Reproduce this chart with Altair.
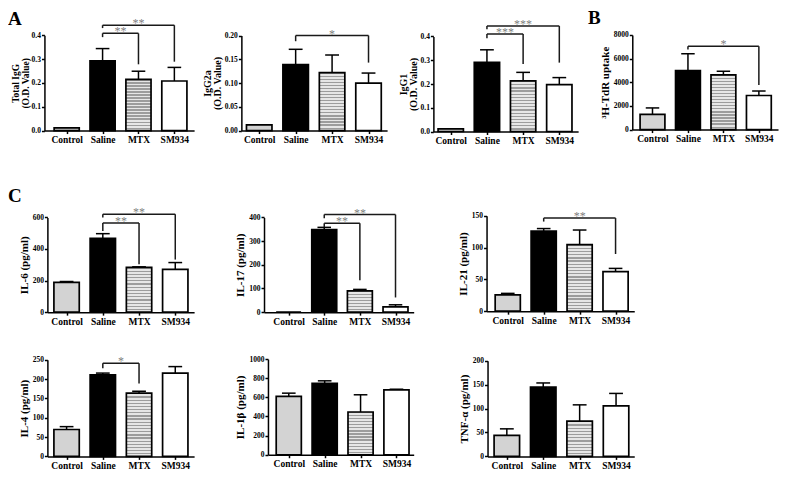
import json
import altair as alt
import pandas as pd

# ---------------- data ----------------
GROUPS = ["Control", "Saline", "MTX", "SM934"]

TOTAL_IGG = [0.011, 0.293, 0.215, 0.208]
TOTAL_IGG_SEM = [0.0, 0.051, 0.034, 0.057]
IGG2A = [0.012, 0.139, 0.122, 0.100]
IGG2A_SEM = [0.0, 0.032, 0.037, 0.021]
IGG1 = [0.011, 0.291, 0.213, 0.197]
IGG1_SEM = [0.0, 0.053, 0.036, 0.030]
TDR = [1290, 4990, 4630, 2880]
TDR_SEM = [540, 1420, 300, 380]
IL6 = [188, 468, 284, 271]
IL6_SEM = [6, 29, 3, 43]
IL17 = [0, 348, 90, 22]
IL17_SEM = [0, 10, 6, 9]
IL21 = [25.6, 126, 104.7, 62.3]
IL21_SEM = [2.4, 4, 23, 5]
IL4 = [69.6, 211, 163.6, 215.6]
IL4_SEM = [7.4, 4.6, 5, 16.8]
IL1B = [610, 746, 447, 678]
IL1B_SEM = [34, 27, 180, 7]
TNF = [44, 145, 73.7, 105.8]
TNF_SEM = [13.6, 8.6, 34.1, 25.9]

# significance brackets: (from, to, bracket level, left end, right end, label)
TOTAL_IGG_SIG = [("Saline", "MTX", 0.408, 0.392, 0.278, "**"),
                 ("Saline", "SM934", 0.442, 0.430, 0.289, "**")]
IGG2A_SIG = [("Saline", "SM934", 0.200, 0.188, 0.143, "*")]
IGG1_SIG = [("Saline", "MTX", 0.410, 0.393, 0.284, "***"),
            ("Saline", "SM934", 0.444, 0.430, 0.290, "***")]
TDR_SIG = [("Saline", "SM934", 7050, 6770, 3760, "*")]
IL6_SIG = [("Saline", "MTX", 565, 514, 304, "**"),
           ("Saline", "SM934", 620, 600, 333, "**")]
IL17_SIG = [("Saline", "MTX", 375, 358, 135, "**"),
            ("Saline", "SM934", 412, 396, 62, "**")]
IL21_SIG = [("Saline", "SM934", 146.5, 141, 90, "**")]
IL4_SIG = [("Saline", "MTX", 240.8, 228, 188.8, "*")]

# ---------------- layout / style ----------------
W, H = 771, 462
SERIF = "Liberation Serif"


def px(x):
    return (x - 3.0) * W / 783.0


def py(y):
    return (y - 4.0) * H / 475.0


BAR_HALF = 0.35
CAP_HALF = 0.19
FILLS = {"Control": "#d3d3d3", "Saline": "#000000", "SM934": "#ffffff"}
STRIPE_LINE = "#9c9c9c"
STRIPE_BG = "#e6e6e6"
LABEL_EXPR = json.dumps(GROUPS) + "[datum.value]"

PANELS = [
    dict(mean=TOTAL_IGG, sem=TOTAL_IGG_SEM, sig=TOTAL_IGG_SIG, title=["Total IgG", "(O.D. Value)"],
         ax=(40, 192), xdom=(-0.62, 3.55), yr=(32, 130), ymax=0.4,
         ticks=[0, 0.1, 0.2, 0.3, 0.4], fmt=".1f", tfs=9.5, tpad=1),
    dict(mean=IGG2A, sem=IGG2A_SEM, sig=IGG2A_SIG, title=["IgG2a", "(O.D. Value)"],
         ax=(240, 388), xdom=(-0.49, 3.51), yr=(32.3, 130), ymax=0.2,
         ticks=[0, 0.05, 0.1, 0.15, 0.2], fmt=".2f", tfs=10, tpad=2),
    dict(mean=IGG1, sem=IGG1_SEM, sig=IGG1_SIG, title=["IgG1", "(O.D. Value)"],
         ax=(435, 582), xdom=(-0.48, 3.52), yr=(33.3, 131), ymax=0.4,
         ticks=[0, 0.1, 0.2, 0.3, 0.4], fmt=".1f", tfs=10, tpad=2),
    dict(mean=TDR, sem=TDR_SEM, sig=TDR_SIG, title="³H-TdR uptake",
         ax=(637, 785), xdom=(-0.57, 3.54), yr=(31.7, 129), ymax=8000,
         ticks=[0, 2000, 4000, 6000, 8000], fmt="d", tfs=11, tpad=3),
    dict(mean=IL6, sem=IL6_SEM, sig=IL6_SIG, title="IL-6 (pg/ml)",
         ax=(43, 192), xdom=(-0.53, 3.52), yr=(219.3, 316.7), ymax=600,
         ticks=[0, 200, 400, 600], fmt="d", tfs=11, tpad=3),
    dict(mean=IL17, sem=IL17_SEM, sig=IL17_SIG, title="IL-17 (pg/ml)",
         ax=(263, 415), xdom=(-0.69, 3.51), yr=(219.3, 316.7), ymax=400,
         ticks=[0, 100, 200, 300, 400], fmt="d", tfs=11, tpad=3),
    dict(mean=IL21, sem=IL21_SEM, sig=IL21_SIG, title="IL-21 (pg/ml)",
         ax=(489, 639), xdom=(-0.59, 3.52), yr=(217.7, 315.7), ymax=150,
         ticks=[0, 50, 100, 150], fmt="d", tfs=11, tpad=3),
    dict(mean=IL4, sem=IL4_SEM, sig=IL4_SIG, title="IL-4 (pg/ml)",
         ax=(43, 192), xdom=(-0.53, 3.52), yr=(365.7, 465), ymax=250,
         ticks=[0, 50, 100, 150, 200, 250], fmt="d", tfs=11, tpad=3),
    dict(mean=IL1B, sem=IL1B_SEM, sig=[], title="IL-1β (pg/ml)",
         ax=(267, 415), xdom=(-0.58, 3.48), yr=(365, 463.3), ymax=1000,
         ticks=[0, 200, 400, 600, 800, 1000], fmt="d", tfs=11, tpad=3),
    dict(mean=TNF, sem=TNF_SEM, sig=[], title="TNF-α (pg/ml)",
         ax=(490, 639), xdom=(-0.53, 3.5), yr=(366.7, 465), ymax=200,
         ticks=[0, 50, 100, 150, 200], fmt="d", tfs=11, tpad=3),
]


def stripes(height_px, period=3.1):
    n = max(1, int(round(height_px / period)))
    stops = []
    for k in range(n):
        a, m, b = k / n, (k + 0.4) / n, (k + 1) / n
        stops += [alt.GradientStop(color=STRIPE_LINE, offset=a),
                  alt.GradientStop(color=STRIPE_LINE, offset=m),
                  alt.GradientStop(color=STRIPE_BG, offset=m),
                  alt.GradientStop(color=STRIPE_BG, offset=min(b, 1.0))]
    return alt.LinearGradient(gradient="linear", stops=stops, x1=0, x2=0, y1=0, y2=1)


def build_panel(p):
    """Returns a flat list of layers for one panel (explicit, identical scales)."""
    df = pd.DataFrame({"g": GROUPS, "i": list(range(len(GROUPS))),
                       "mean": p["mean"], "sem": p["sem"]})
    df["top"] = df["mean"] + df["sem"]
    x0, x1 = p["ax"]
    ytop, ybot = p["yr"]

    def xs():
        return alt.Scale(domain=list(p["xdom"]), range=[px(x0), px(x1)], nice=False, zero=False)

    def ys():
        return alt.Scale(domain=[0, p["ymax"]], range=[py(ybot), py(ytop)], nice=False, zero=False)

    xaxis = alt.Axis(orient="bottom", offset=py(ybot) - H, values=list(range(len(GROUPS))),
                     labelExpr=LABEL_EXPR, title=None, labelFontSize=9.5, labelOverlap=False,
                     labelFlush=False, labelPadding=1, grid=False)
    yaxis = alt.Axis(orient="left", offset=-px(x0), values=p["ticks"], format=p["fmt"],
                     title=p["title"], labelFontSize=7.5, titleFontSize=p["tfs"],
                     titlePadding=p["tpad"], labelPadding=1, titleLineHeight=10, grid=False)

    base = alt.Chart(df).transform_calculate(
        lo=f"datum.i - {BAR_HALF}", hi=f"datum.i + {BAR_HALF}",
        clo=f"datum.i - {CAP_HALF}", chi=f"datum.i + {CAP_HALF}")

    solid = base.transform_filter("datum.g != 'MTX'").mark_bar(
        stroke="black", strokeWidth=1.7).encode(
        x=alt.X("lo:Q", scale=xs(), axis=xaxis), x2="hi:Q",
        y=alt.Y("mean:Q", scale=ys(), axis=yaxis), y2=alt.datum(0),
        fill=alt.Fill("g:N", scale=alt.Scale(domain=list(FILLS.keys()), range=list(FILLS.values())),
                      legend=None))

    mtx_px = p["mean"][2] / p["ymax"] * (py(ybot) - py(ytop))
    mtx = base.transform_filter("datum.g == 'MTX'").mark_bar(
        stroke="black", strokeWidth=1.7, fill=stripes(mtx_px)).encode(
        x=alt.X("lo:Q", scale=xs(), axis=None), x2="hi:Q",
        y=alt.Y("mean:Q", scale=ys(), axis=None), y2=alt.datum(0))

    err = base.transform_filter("datum.sem > 0").mark_rule(color="black", strokeWidth=1.5).encode(
        x=alt.X("i:Q", scale=xs(), axis=None),
        y=alt.Y("mean:Q", scale=ys(), axis=None), y2="top:Q")
    cap = base.transform_filter("datum.sem > 0").mark_rule(color="black", strokeWidth=1.5).encode(
        x=alt.X("clo:Q", scale=xs(), axis=None), x2="chi:Q",
        y=alt.Y("top:Q", scale=ys(), axis=None))

    layers = [solid, mtx, err, cap]

    if p["sig"]:
        sdf = pd.DataFrame(p["sig"], columns=["a", "b", "level", "left", "right", "label"])
        sdf["a"] = sdf["a"].map(GROUPS.index)
        sdf["b"] = sdf["b"].map(GROUPS.index)
        sdf["mid"] = (sdf["a"] + sdf["b"]) / 2
        sb = alt.Chart(sdf)
        rule_kw = dict(color="#1a1a1a", strokeWidth=1.5)
        layers += [
            sb.mark_rule(**rule_kw).encode(
                x=alt.X("a:Q", scale=xs(), axis=None), x2="b:Q",
                y=alt.Y("level:Q", scale=ys(), axis=None)),
            sb.mark_rule(**rule_kw).encode(
                x=alt.X("a:Q", scale=xs(), axis=None),
                y=alt.Y("level:Q", scale=ys(), axis=None), y2="left:Q"),
            sb.mark_rule(**rule_kw).encode(
                x=alt.X("b:Q", scale=xs(), axis=None),
                y=alt.Y("level:Q", scale=ys(), axis=None), y2="right:Q"),
            sb.mark_text(font=SERIF, fontSize=12, color="#808080", baseline="alphabetic",
                         align="center", dy=2).encode(
                x=alt.X("mid:Q", scale=xs(), axis=None),
                y=alt.Y("level:Q", scale=ys(), axis=None), text="label:N"),
        ]
    return layers


def letter(t, x, y):
    return alt.Chart(pd.DataFrame({"k": [0]})).mark_text(
        text=t, font=SERIF, fontSize=19, fontWeight="bold", color="black",
        align="left", baseline="alphabetic").encode(x=alt.value(px(x)), y=alt.value(py(y)))


layers = []
for p in PANELS:
    layers += build_panel(p)
layers += [letter("A", 3, 21), letter("B", 592, 20.5), letter("C", 3, 203)]

chart = alt.layer(*layers).resolve_scale(
    x="independent", y="independent"
).resolve_axis(
    x="independent", y="independent"
).properties(
    width=W, height=H, padding=0,
    autosize=alt.AutoSizeParams(type="none"),
    background="white",
).configure_view(
    stroke=None
).configure_axis(
    grid=False,
    domainColor="black", domainWidth=1.5,
    tickColor="black", tickWidth=1.5, tickSize=3,
    labelFont=SERIF, labelFontWeight="bold", labelColor="black",
    titleFont=SERIF, titleFontWeight="bold", titleColor="black",
)

chart.save("out.html", embed_options={"renderer": "svg", "actions": False})
